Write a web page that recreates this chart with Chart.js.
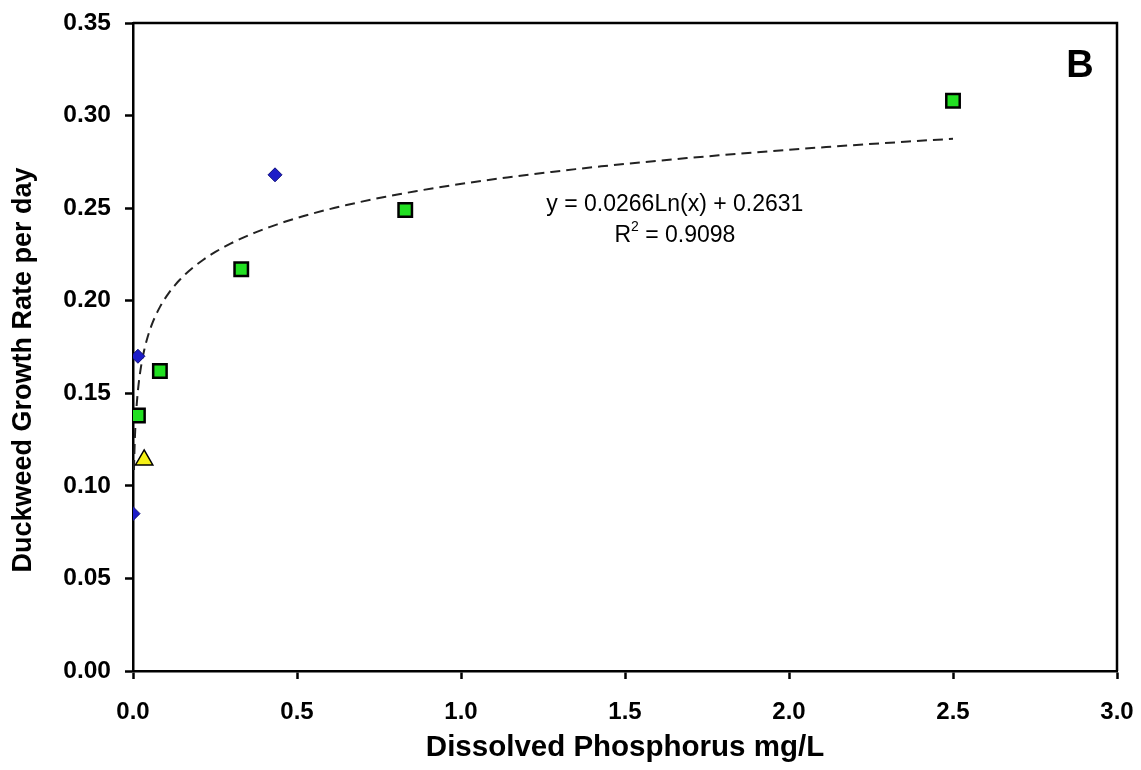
<!DOCTYPE html>
<html>
<head>
<meta charset="utf-8">
<script src="https://cdn.jsdelivr.net/npm/chart.js@4/dist/chart.umd.min.js"></script>
<style>
  html, body { margin: 0; padding: 0; background: #fff; }
  #wrap { width: 1141px; height: 770px; position: relative; }
</style>
</head>
<body>
<div id="wrap"><canvas id="mainChart"></canvas></div>
<script>
// Data
const diamondX = [0.0, 0.015, 0.433];
const diamondY = [0.085, 0.170, 0.268];
const squareX = [0.015, 0.082, 0.33, 0.83, 2.5];
const squareY = [0.138, 0.162, 0.217, 0.249, 0.308];
const triangleX = [0.034];
const triangleY = [0.114];

// Log fit printed on the figure: y = a Ln(x) + b
const fitSlope = 0.0266;
const fitIntercept = 0.2631;
const fitR2 = 0.9098;
const fitRange = [0.003, 2.5];

const xTicks = [0.0, 0.5, 1.0, 1.5, 2.0, 2.5, 3.0];
const yTicks = [0.00, 0.05, 0.10, 0.15, 0.20, 0.25, 0.30, 0.35];

const pts = (xs, ys) => xs.map((x, i) => ({ x: x, y: ys[i] }));

// sample the fitted curve on a log spaced grid of x
const fitPts = [];
for (let i = 0; i <= 120; i++) {
    const x = fitRange[0] * Math.pow(fitRange[1] / fitRange[0], i / 120);
    fitPts.push({ x: x, y: fitSlope * Math.log(x) + fitIntercept });
}

const FONT = '"Liberation Sans", Arial, sans-serif';

// frame (top/right border), y title and text annotations
const annotate = {
    id: 'annotate',
    afterDatasetsDraw(chart) {
        const { ctx, chartArea: a, scales } = chart;
        ctx.save();
        ctx.strokeStyle = '#000';
        ctx.lineWidth = 2.5;
        ctx.beginPath();
        ctx.moveTo(a.left, a.top);
        ctx.lineTo(a.right, a.top);
        ctx.lineTo(a.right, a.bottom);
        ctx.stroke();

        ctx.fillStyle = '#000';
        ctx.textBaseline = 'middle';
        ctx.textAlign = 'center';

        // y axis title sits a little below the axis middle in the original
        ctx.save();
        ctx.translate(24, 370);
        ctx.rotate(-Math.PI / 2);
        ctx.font = 'bold 27px ' + FONT;
        ctx.fillText('Duckweed Growth Rate per day', 0, 0);
        ctx.restore();

        ctx.font = 'bold 38px ' + FONT;
        ctx.fillText('B', scales.x.getPixelForValue(2.887), scales.y.getPixelForValue(0.3265));

        const cx = scales.x.getPixelForValue(1.652);
        ctx.font = '23px ' + FONT;
        ctx.fillText('y = ' + fitSlope.toFixed(4) + 'Ln(x) + ' + fitIntercept.toFixed(4),
            cx, scales.y.getPixelForValue(0.2518));
        const line2 = ' = ' + fitR2.toFixed(4);
        const y2 = scales.y.getPixelForValue(0.235);
        const wR = ctx.measureText('R').width;
        const wRest = ctx.measureText(line2).width;
        ctx.font = '14px ' + FONT;
        const w2 = ctx.measureText('2').width;
        const total = wR + w2 + wRest;
        const x0 = cx - total / 2;
        ctx.textAlign = 'left';
        ctx.font = '23px ' + FONT;
        ctx.fillText('R', x0, y2);
        ctx.font = '14px ' + FONT;
        ctx.fillText('2', x0 + wR, y2 - 9);
        ctx.font = '23px ' + FONT;
        ctx.fillText(line2, x0 + wR + w2, y2);
        ctx.restore();
    }
};

new Chart(document.getElementById('mainChart'), {
    type: 'scatter',
    data: {
        datasets: [
            {
                type: 'line',
                data: fitPts,
                borderColor: '#222',
                borderWidth: 2,
                borderDash: [10, 6],
                pointRadius: 0,
                fill: false,
                tension: 0,
                order: 10
            },
            {
                data: pts(diamondX, diamondY),
                pointStyle: 'rectRot',
                pointRadius: 7,
                backgroundColor: '#1c1cc8',
                borderColor: '#10107a',
                borderWidth: 1,
                order: 1
            },
            {
                data: pts(squareX, squareY),
                pointStyle: 'rect',
                pointRadius: 9.5,
                backgroundColor: '#22e022',
                borderColor: '#000',
                borderWidth: 2.5,
                order: 1
            },
            {
                data: pts(triangleX, triangleY),
                pointStyle: 'triangle',
                pointRadius: 10,
                backgroundColor: '#f5f016',
                borderColor: '#000',
                borderWidth: 1.5,
                order: 1
            }
        ]
    },
    options: {
        responsive: true,
        maintainAspectRatio: false,
        animation: false,
        layout: { padding: { top: 23, right: 24, left: 0, bottom: 0 } },
        plugins: {
            legend: { display: false },
            tooltip: { enabled: false }
        },
        scales: {
            x: {
                type: 'linear',
                min: 0,
                max: 3,
                afterBuildTicks: s => { s.ticks = xTicks.map(v => ({ value: v })); },
                afterFit: s => { s.height = 99; s.paddingLeft = 0; s.paddingRight = 0; },
                ticks: {
                    color: '#000',
                    font: { family: FONT, size: 24, weight: 'bold' },
                    padding: 19,
                    maxRotation: 0,
                    callback: v => Number(v).toFixed(1)
                },
                grid: { drawOnChartArea: false, tickLength: 8, tickColor: '#000', tickWidth: 2.5 },
                border: { color: '#000', width: 2.5 },
                title: {
                    display: true,
                    text: 'Dissolved Phosphorus mg/L',
                    color: '#000',
                    font: { family: FONT, size: 29.5, weight: 'bold' },
                    padding: { top: 4, bottom: 4 }
                }
            },
            y: {
                min: 0,
                max: 0.35,
                afterBuildTicks: s => { s.ticks = yTicks.map(v => ({ value: v })); },
                afterFit: s => { s.width = 133; s.paddingTop = 0; s.paddingBottom = 0; },
                ticks: {
                    color: '#000',
                    font: { family: FONT, size: 24.5, weight: 'bold' },
                    padding: 14,
                    callback: v => Number(v).toFixed(2)
                },
                grid: { drawOnChartArea: false, tickLength: 8, tickColor: '#000', tickWidth: 2.5 },
                border: { color: '#000', width: 2.5 }
            }
        }
    },
    plugins: [annotate]
});
</script>
</body>
</html>
